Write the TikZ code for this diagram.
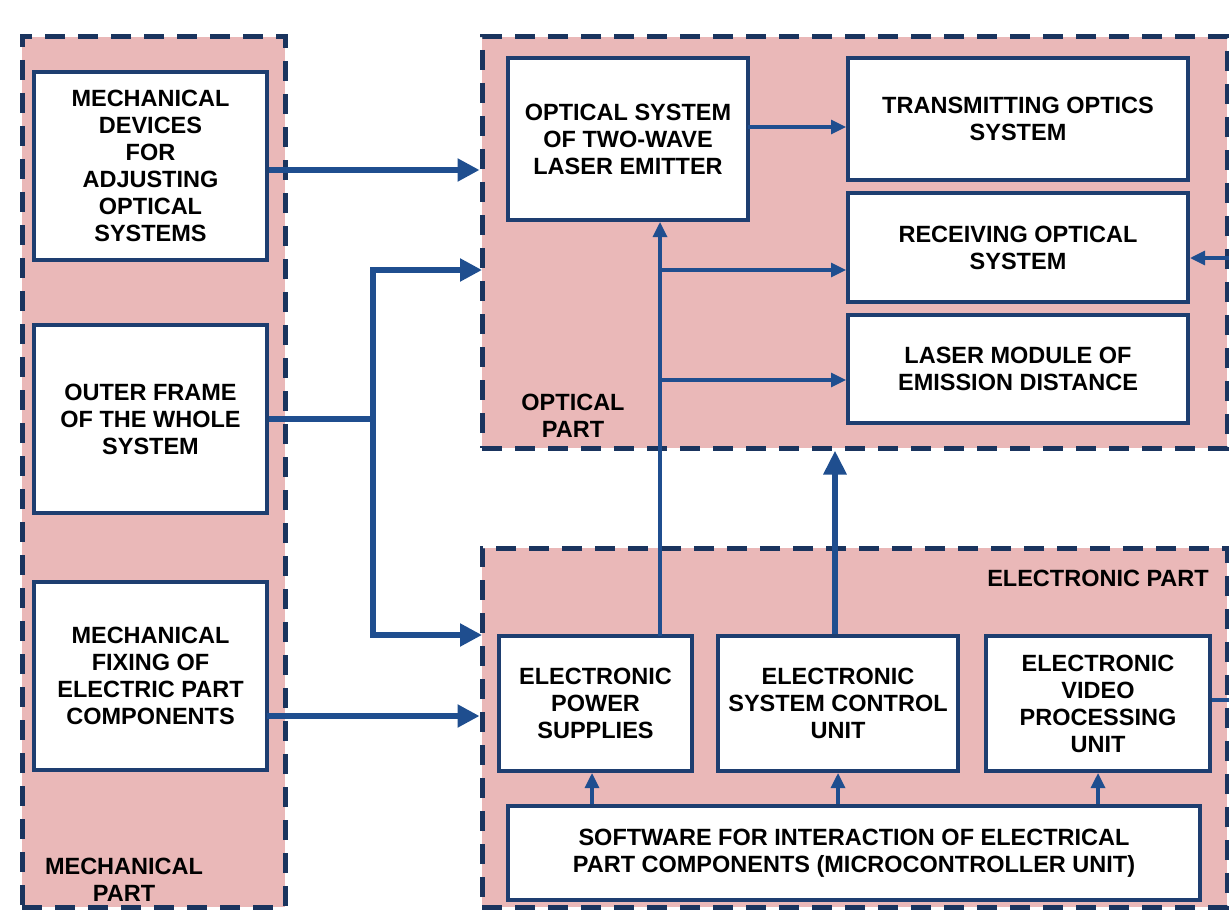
\documentclass[tikz,border=0pt]{standalone}
\usepackage{fontspec}
\setmainfont{Liberation Sans}
\usetikzlibrary{arrows.meta}

\definecolor{pinkfill}{RGB}{234,184,184}
\definecolor{boxblue}{RGB}{30,62,112}
\definecolor{dashblue}{RGB}{26,52,94}
\definecolor{arrowblue}{RGB}{31,78,143}

\tikzset{
  region/.style={draw=dashblue,fill=pinkfill,line width=2.5pt,
    dash pattern=on 10pt off 6.5pt,inner sep=0pt},
  unit/.style={draw=boxblue,fill=white,line width=2pt,inner sep=0pt,
    align=center,font=\fontsize{11.75}{13.5}\selectfont\bfseries},
  partlbl/.style={align=center,font=\fontsize{11.75}{13.5}\selectfont\bfseries},
  bigarrow/.style={draw=arrowblue,line width=2.6pt,-{Triangle[length=11pt,width=11pt]}},
  smallarrow/.style={draw=arrowblue,line width=1.6pt,-{Triangle[length=7.5pt,width=7pt]}},
  bigline/.style={draw=arrowblue,line width=2.6pt},
}

\begin{document}
\begin{tikzpicture}[x=0.5pt,y=-0.5pt]
  \useasboundingbox (0,0) rectangle (1229,909);
  \clip (0,0) rectangle (1229,909);

  % parts
  \node[region,minimum width=131.5pt,minimum height=435pt] (mech) at (153.5,472) {};
  \node[region,minimum width=372.5pt,minimum height=205.5pt] (optical) at (854.5,242.5) {};
  \node[region,minimum width=372.5pt,minimum height=179.5pt] (elec) at (854.5,727.5) {};

  \node[partlbl] (mechlbl) at (124,880) {MECHANICAL\\PART};
  \node[partlbl] (optlbl) at (573,416) {OPTICAL\\PART};
  \node[partlbl] (eleclbl) at (1098,578) {ELECTRONIC PART};

  % mechanical units
  \node[unit,minimum width=116.5pt,minimum height=94pt] (mdev) at (150.5,166)
    {MECHANICAL\\DEVICES\\FOR\\ADJUSTING\\OPTICAL\\SYSTEMS};
  \node[unit,minimum width=116.5pt,minimum height=94pt] (frame) at (150.5,419)
    {OUTER FRAME\\OF THE WHOLE\\SYSTEM};
  \node[unit,minimum width=116.5pt,minimum height=94pt] (fix) at (150.5,676)
    {MECHANICAL\\FIXING OF\\ELECTRIC PART\\COMPONENTS};

  % optical units
  \node[unit,minimum width=120pt,minimum height=81pt] (emit) at (628,139)
    {OPTICAL SYSTEM\\OF TWO-WAVE\\LASER EMITTER};
  \node[unit,minimum width=170pt,minimum height=61pt] (trans) at (1018,119)
    {TRANSMITTING OPTICS\\SYSTEM};
  \node[unit,minimum width=170pt,minimum height=54.5pt] (recv) at (1018,247.5)
    {RECEIVING OPTICAL\\SYSTEM};
  \node[unit,minimum width=170pt,minimum height=54pt] (laser) at (1018,369)
    {LASER MODULE OF\\EMISSION DISTANCE};

  % electronic units
  \node[unit,minimum width=96.5pt,minimum height=67.5pt] (psu) at (595.5,703.5)
    {ELECTRONIC\\POWER\\SUPPLIES};
  \node[unit,minimum width=120pt,minimum height=67.5pt] (ctrl) at (838,703.5)
    {ELECTRONIC\\SYSTEM CONTROL\\UNIT};
  \node[unit,minimum width=112pt,minimum height=67.5pt] (video) at (1098,703.5)
    {ELECTRONIC\\VIDEO\\PROCESSING\\UNIT};
  \node[unit,minimum width=346pt,minimum height=47pt] (sw) at (854,853)
    {SOFTWARE FOR INTERACTION OF ELECTRICAL\\PART COMPONENTS (MICROCONTROLLER UNIT)};

  % junctions
  \coordinate (fork) at (373,419);
  \coordinate (optin) at (482,270);
  \coordinate (elecin) at (482,635);
  \coordinate (fixout) at (267,716);
  \coordinate (bus) at (660,636);
  \coordinate (tap1) at (660,270);
  \coordinate (tap2) at (660,380);
  \coordinate (txout) at (748,127);
  \coordinate (rxin) at (1240,258);
  \coordinate (vidout) at (1240,700);

  % connectors
  \draw[bigarrow] (mdev.east |- 0,170) -- (optical.west |- 0,170);
  \draw[bigline] (frame.east) -- (fork);
  \draw[bigarrow] (fork) |- (optin);
  \draw[bigarrow] (fork) |- (elecin);
  \draw[bigarrow] (fixout) -- (fixout -| elec.west);

  \draw[smallarrow] (bus) -- (bus |- emit.south);
  \draw[smallarrow] (tap1) -- (tap1 -| recv.west);
  \draw[smallarrow] (tap2) -- (tap2 -| laser.west);
  \draw[smallarrow] (txout) -- (txout -| trans.west);
  \draw[smallarrow] (rxin) -- (rxin -| recv.east);
  \draw[draw=arrowblue,line width=1.6pt] (video.east |- vidout) -- (vidout);

  \draw[draw=arrowblue,line width=3pt,-{Triangle[length=12pt,width=11pt]}]
    (ctrl.north -| 835,0) -- (optical.south -| 835,0);

  \draw[smallarrow] (sw.north -| 592,0) -- (psu.south -| 592,0);
  \draw[smallarrow] (sw.north -| ctrl) -- (ctrl.south);
  \draw[smallarrow] (sw.north -| video) -- (video.south);
\end{tikzpicture}
\end{document}
